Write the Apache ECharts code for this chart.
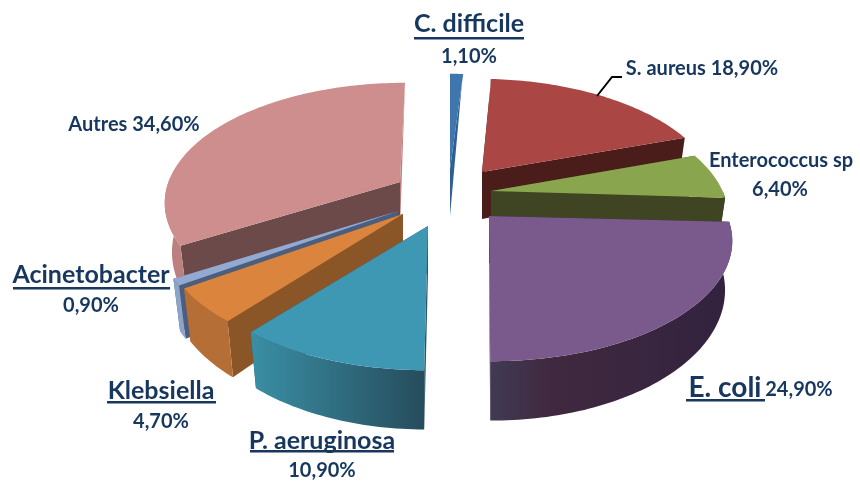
<!DOCTYPE html>
<html>
<head>
<meta charset="utf-8">
<title>Pie</title>
<script src="https://cdn.jsdelivr.net/npm/echarts@6/dist/echarts.min.js"></script>
<style>
html, body { margin: 0; padding: 0; background: #fff; }
#main { width: 860px; height: 482px; }
</style>
</head>
<body>
<div id="main"></div>
<script>
// data
var categories = ["C. difficile", "S. aureus", "Enterococcus sp", "E. coli", "P. aeruginosa", "Klebsiella", "Acinetobacter", "Autres"];
var values = [1.1, 18.9, 6.4, 24.9, 10.9, 4.7, 0.9, 34.6];

// look of each slice
var topColors = ["#3f76ae", "#aa4644", "#89a54e", "#7a5a8c", "#3e97b3", "#db843d", "#93a9cf", "#ce8e8e"];
var startCutColors = ["#2f5f94", "#4a1c1a", "#3f4422", "#35233f", "#2a5566", "#8a5628", "#4a5f80", "#6d4a4a"];
var endCutColors = ["#2f5f94", "#4a1c1a", "#3f4422", "#35233f", "#2a5566", "#8a5628", "#4a5f80", "#b97e7e"];
var wallFrom = ["#2f5f94", "#4a1c1a", "#3f4422", "#413a55", "#3a8fa5", "#b56e35", "#8ea3c8", "#bc8080"];
var wallTo = ["#2f5f94", "#4a1c1a", "#3f4422", "#32223f", "#264c5c", "#b56e35", "#8ea3c8", "#bc8080"];

// slices were pulled apart by hand in the original, so each has its own tip
var tipX = [450, 482, 491, 489, 428, 403, 398, 400];
var tipY = [169, 172, 191, 216, 226, 214, 211, 182];
var rimShiftX = [0, -4, -3, 3, -2, 0, 0, 5];
var rimShiftY = [0, 2, 1, 0, -1, 0, 0, -4];
var drawRank = [4, 5, 6, 7, 3, 2, 1, 0];

var radiusX = 235;
var radiusY = 115;
var perspective = 0.208;
var depth = 47;
var textColor = "#17375e";

var total = 0;
for(var t = 0; t < values.length; t++) {
	total += values[t];
}

function percentText(v) {
	return v.toFixed(2).replace(".", ",") + "%";
}

// angle clockwise from the top -> screen point, lower=true is the bottom disc
function rimPoint(i, a, lower) {
	var u = Math.sin(a);
	var v = -Math.cos(a);
	var s = 1 / (1 - perspective * v);
	var x = tipX[i] + rimShiftX[i] + radiusX * u * s;
	var y = tipY[i] + rimShiftY[i] + radiusY * v * s;
	if(lower) {
		x -= radiusX * u * s * 0.03;
		if(v > -0.9) {
			y += depth * s;
		}
	}
	return [x, y];
}

function arcPoints(i, a0, a1, lower) {
	var pts = [];
	var n = Math.max(2, Math.ceil((a1 - a0) / 0.02));
	for(var k = 0; k <= n; k++) {
		pts.push(rimPoint(i, a0 + (a1 - a0) * k / n, lower));
	}
	return pts;
}

function face(points, fill, z) {
	return {
		type: "polygon",
		z2: z,
		shape: { points: points },
		style: { fill: fill, stroke: null }
	};
}

function renderSlice(params, api) {
	var i = params.dataIndex;
	var sum = 0;
	for(var j = 0; j < i; j++) {
		sum += values[j];
	}
	var a0 = sum / total * Math.PI * 2;
	var a1 = a0 + api.value(0) / total * Math.PI * 2;
	var tip = [tipX[i], tipY[i]];
	var tipLow = [tipX[i], tipY[i] + depth];
	var z = drawRank[i] * 10;
	var kids = [];

	// cut faces
	kids.push(face([tip, rimPoint(i, a0, false), rimPoint(i, a0, true), tipLow], startCutColors[i], z));
	kids.push(face([tip, rimPoint(i, a1, false), rimPoint(i, a1, true), tipLow], endCutColors[i], z + 1));

	// outer wall, only the front half shows
	var w0 = Math.max(a0, Math.PI / 2);
	var w1 = Math.min(a1, Math.PI * 1.5);
	if(w1 > w0) {
		var wall = arcPoints(i, w0, w1, false).concat(arcPoints(i, w0, w1, true).reverse());
		var grad = new echarts.graphic.LinearGradient(0, 0, 1, 0, [
			{ offset: 0, color: i == 4 ? wallFrom[i] : wallTo[i] },
			{ offset: 1, color: i == 4 ? wallTo[i] : wallFrom[i] }
		]);
		if(i == 3) {
			grad = new echarts.graphic.LinearGradient(0, 0, 1, 0, [
				{ offset: 0, color: wallFrom[i] },
				{ offset: 0.25, color: "#40293f" },
				{ offset: 1, color: wallTo[i] }
			]);
		}
		kids.push(face(wall, grad, z + 2));
	}

	// top
	kids.push(face([tip].concat(arcPoints(i, a0, a1, false)), topColors[i], z + 3));

	return { type: "group", children: kids };
}

function label(text, x, y, size, align) {
	return {
		type: "text",
		z: 10,
		x: x,
		y: y,
		style: {
			text: text,
			fill: textColor,
			font: "bold " + size + "px 'Lato', sans-serif",
			textAlign: align || "center",
			textVerticalAlign: "middle"
		}
	};
}

function underline(x0, x1, y) {
	return {
		type: "rect",
		z: 10,
		shape: { x: x0, y: y, width: x1 - x0, height: 2.5 },
		style: { fill: textColor }
	};
}

var labels = [
	label(categories[0], 469, 24, 25),
	underline(414, 524, 37),
	label(percentText(values[0]), 469, 57, 20),

	label(categories[1] + " " + percentText(values[1]), 702, 69, 20),
	{
		type: "polyline",
		z: 10,
		shape: { points: [[597, 96], [612, 77], [622, 77]] },
		style: { stroke: "#000", lineWidth: 2, fill: null }
	},

	label(categories[2], 781, 161, 20),
	label(percentText(values[2]), 780, 190, 20),

	label(categories[3], 725, 388, 28),
	underline(686, 765, 399),
	label(percentText(values[3]), 799, 390, 20),

	label(categories[4], 322, 441, 25),
	underline(250, 394, 450),
	label(percentText(values[4]), 322, 471, 20),

	label(categories[5], 161, 391, 25),
	underline(107, 216, 401),
	label(percentText(values[5]), 161, 422, 20),

	label(categories[6], 91, 275, 25),
	underline(13, 170, 287),
	label(percentText(values[6]), 91, 306, 20),

	label(categories[7] + " " + percentText(values[7]), 134, 125, 20)
];

var seriesData = [];
for(var d = 0; d < values.length; d++) {
	seriesData.push({ name: categories[d], value: [values[d], d] });
}

var chart = echarts.init(document.getElementById("main"));
chart.setOption({
	animation: false,
	backgroundColor: "#fff",
	graphic: labels,
	series: [{
		type: "custom",
		coordinateSystem: "none",
		renderItem: renderSlice,
		data: seriesData
	}]
});
</script>
</body>
</html>
